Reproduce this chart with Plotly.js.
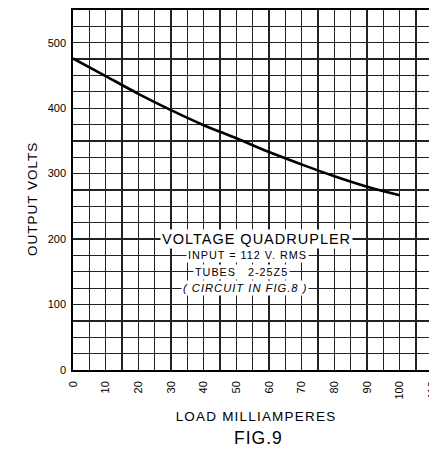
<!DOCTYPE html>
<html><head><meta charset="utf-8">
<script src="https://cdn.plot.ly/plotly-3.0.1.min.js"></script>
<style>
html,body{margin:0;padding:0;overflow:hidden;background:#fff;}
.annotation-text{letter-spacing:1px;}
.xtitle{letter-spacing:1.2px;}
</style>
</head><body>
<div id="chart" style="width:449px;height:451px;"></div>
<script>
var loadMilliamperes = [0, 10, 20, 30, 40, 50, 60, 70, 80, 90, 100];
var outputVolts = [476, 449, 422, 397, 374, 354, 333, 314, 296, 280, 267];
var xTickVals = [0, 10, 20, 30, 40, 50, 60, 70, 80, 90, 100, 110];
var xTickText = ["0", "10", "20", "30", "40", "50", "60", "70", "80", "90", "100", "110"];
var yTickVals = [0, 100, 200, 300, 400, 500];
var yTickText = ["0", "100", "200", "300", "400", "500"];

var FONT = "Liberation Sans, Arial, sans-serif";
var GRID = "#222";

var trace = {
  x: loadMilliamperes, y: outputVolts, type: "scatter", mode: "lines",
  line: {color: "#000", width: 2.6, shape: "spline", smoothing: 1.0},
  hoverinfo: "skip", showlegend: false
};

var layout = {
  width: 449, height: 451,
  margin: {l: 73, r: 10, t: 10, b: 81},
  paper_bgcolor: "#fff", plot_bgcolor: "#fff",
  font: {family: FONT, color: "#000"},
  showlegend: false,
  xaxis: {
    range: [0, 112], tickvals: xTickVals, ticktext: xTickText,
    tickangle: -90, tickfont: {size: 11, family: FONT, color: "#000"},
    showgrid: true, gridcolor: GRID, gridwidth: 1.3,
    minor: {dtick: 5, tick0: 0, showgrid: true, gridcolor: GRID, gridwidth: 1.3, ticks: ""},
    showline: true, linecolor: "#000", linewidth: 1.8, mirror: true,
    ticks: "outside", ticklen: 5, tickcolor: "rgba(0,0,0,0)",
    zeroline: false, fixedrange: true,
    title: {text: "LOAD MILLIAMPERES", font: {size: 13.5, family: FONT, color: "#000"}, standoff: 13}
  },
  yaxis: {
    range: [0, 550], tickvals: yTickVals, ticktext: yTickText,
    tickfont: {size: 11, family: FONT, color: "#000"},
    showgrid: true, gridcolor: GRID, gridwidth: 1.3,
    minor: {dtick: 25, tick0: 0, showgrid: true, gridcolor: GRID, gridwidth: 1.3, ticks: ""},
    showline: true, linecolor: "#000", linewidth: 1.8, mirror: true,
    ticks: "outside", ticklen: 3, tickcolor: "rgba(0,0,0,0)",
    zeroline: false, fixedrange: true
  },
  annotations: [
    {xref: "x", yref: "y", x: 56, y: 200, text: "VOLTAGE QUADRUPLER", showarrow: false,
     font: {size: 14.5, family: FONT, color: "#000"}, bgcolor: "#fff", borderpad: 1},
    {xref: "x", yref: "y", x: 53.5, y: 175, text: "INPUT = 112 V. RMS", showarrow: false,
     font: {size: 10.8, family: FONT, color: "#000"}, bgcolor: "#fff", borderpad: 1},
    {xref: "x", yref: "y", x: 51.5, y: 150, text: "TUBES&nbsp;&nbsp;&nbsp;2-25Z5", showarrow: false,
     font: {size: 10.8, family: FONT, color: "#000"}, bgcolor: "#fff", borderpad: 1},
    {xref: "x", yref: "y", x: 52.5, y: 125, text: "<i>( CIRCUIT IN FIG.8 )</i>", showarrow: false,
     font: {size: 11.2, family: FONT, color: "#000"}, bgcolor: "#fff", borderpad: 1},
    {xref: "paper", yref: "paper", x: -0.112, y: 0.475, xanchor: "center", yanchor: "middle",
     textangle: -90, text: "OUTPUT VOLTS", showarrow: false,
     font: {size: 13.5, family: FONT, color: "#000"}},
    {xref: "paper", yref: "paper", x: 0.507, y: -0.155, xanchor: "center", yanchor: "top",
     text: "FIG.9", showarrow: false, font: {size: 17.5, family: FONT, color: "#000"}}
  ]
};

Plotly.newPlot("chart", [trace], layout, {displayModeBar: false, staticPlot: true});
</script>
</body></html>
